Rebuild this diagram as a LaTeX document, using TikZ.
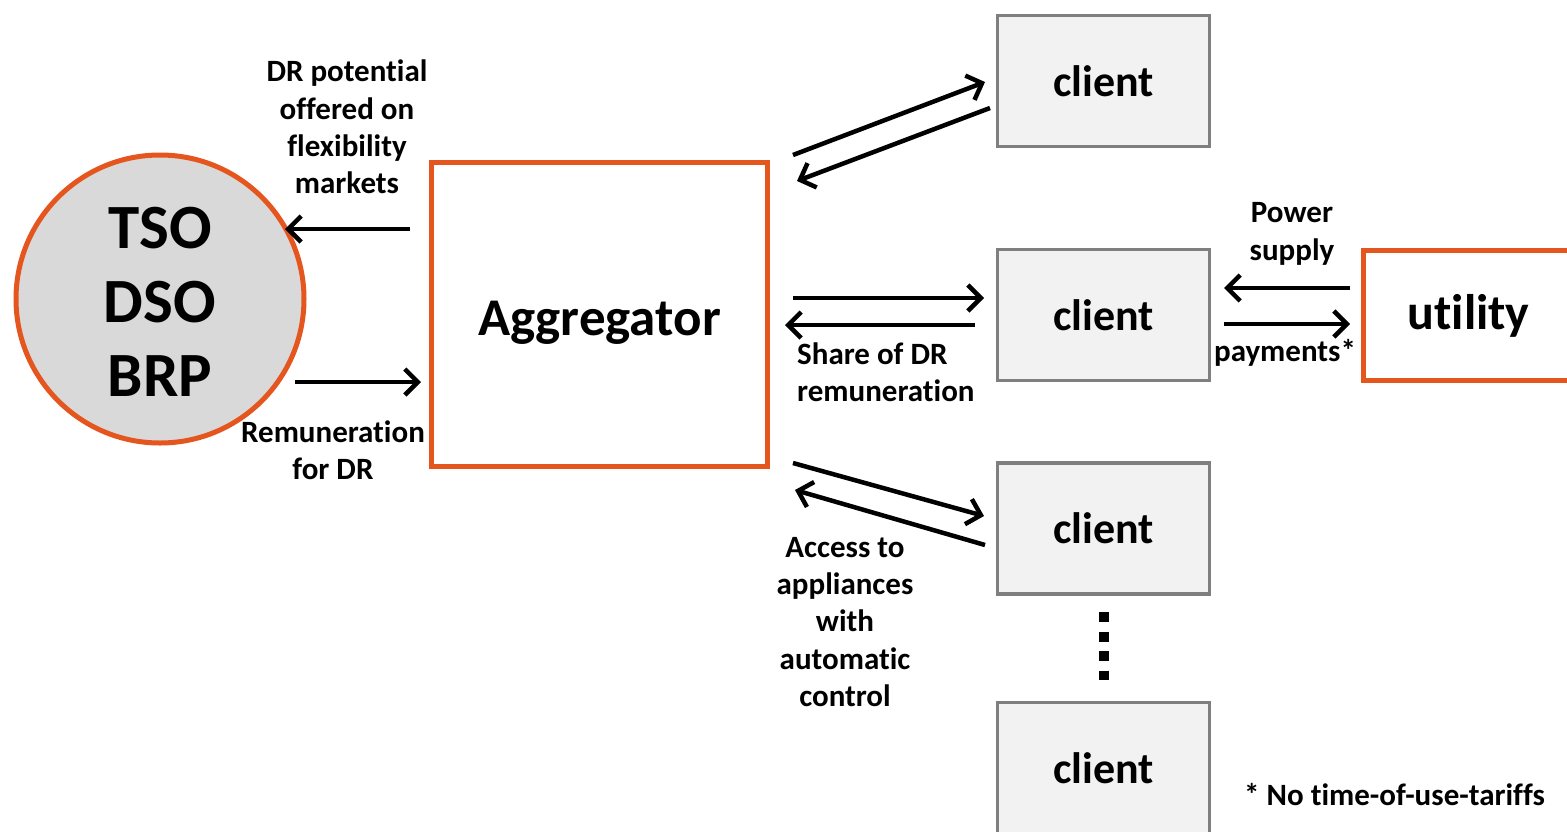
\documentclass[tikz,border=0pt]{standalone}
\usepackage{fontspec}
\setmainfont{Carlito}[Ligatures=NoCommon]
\usetikzlibrary{arrows.meta}
\definecolor{accent}{RGB}{228,86,30}
\definecolor{clientfill}{RGB}{242,242,242}
\definecolor{clientedge}{RGB}{127,127,127}
\definecolor{circlefill}{RGB}{217,217,217}
% split "t" and "i" so the font does not join them
\newcommand{\tx}{t\kern0pt }
\tikzset{
  orangebox/.style={draw=accent, line width=5pt, fill=white, rectangle, inner sep=0pt},
  clientbox/.style={draw=clientedge, line width=3.5pt, fill=clientfill, rectangle, inner sep=0pt,
    minimum width=212pt, minimum height=131pt, font=\fontsize{44}{50}\selectfont\bfseries},
  flow/.style={line width=4.5pt, -{Straight Barb[length=13pt,width=26pt,line width=4.5pt]}},
  lbl/.style={align=center, inner sep=0pt, font=\fontsize{31}{37.3}\selectfont\bfseries},
}
\begin{document}
\begin{tikzpicture}[x=1pt,y=-1pt]
\useasboundingbox (0,0) rectangle (1567,831);
\clip (0,0) rectangle (1567,831);

% parties
\node[circle, draw=accent, line width=5pt, fill=circlefill, minimum size=288pt, inner sep=0pt] (grid) at (160,299) {};
\node[align=center, inner sep=0pt, font=\fontsize{63}{74}\selectfont\bfseries] (gridt) at (160,302) {TSO\\DSO\\BRP};
\node[orangebox, minimum width=336pt, minimum height=304pt] (agg) at (599.5,314.5) {};
\node[inner sep=0pt, font=\fontsize{53}{60}\selectfont\bfseries] (aggt) at (599.5,322.5) {Aggregator};
\node[clientbox] (c1) at (1103.5,81) {client};
\node[clientbox] (c2) at (1103.5,315) {client};
\node[clientbox] (c3) at (1103.5,528.5) {client};
\node[clientbox] (c4) at (1103.5,768) {client};
\node[orangebox, minimum width=212pt, minimum height=130pt,
      font=\fontsize{50}{56}\selectfont\bfseries] (util) at (1469.5,315.5) {\hspace*{-2pt}u\tx ility};

% more clients
\draw[line width=10pt, dash pattern=on 10pt off 9.5pt] (c3.south |- 0,612) coordinate (d1) -- (c3.south |- 0,680) coordinate (d2);

% arrow end points
\coordinate (g1a) at (410,229);   \coordinate (g1b) at (285,229);
\coordinate (g2a) at (295,382);   \coordinate (g2b) at (421,382);
\coordinate (k1a) at (793,155);   \coordinate (k1b) at (985,82);
\coordinate (k1c) at (990,108);   \coordinate (k1d) at (797,181);
\coordinate (k2a) at (793,298);   \coordinate (k2b) at (984,298);
\coordinate (k2c) at (975,325);   \coordinate (k2d) at (785,325);
\coordinate (k3a) at (793,463);   \coordinate (k3b) at (984,516);
\coordinate (k3c) at (985,545);   \coordinate (k3d) at (795,490);
\coordinate (u1a) at (1350,288);  \coordinate (u1b) at (1224,288);
\coordinate (u2a) at (1224,324);  \coordinate (u2b) at (1350,324);

\draw[flow] (g1a) -- (g1b);
\draw[flow] (g2a) -- (g2b);
\draw[flow] (k1a) -- (k1b);
\draw[flow] (k1c) -- (k1d);
\draw[flow] (k2a) -- (k2b);
\draw[flow] (k2c) -- (k2d);
\draw[flow] (k3a) -- (k3b);
\draw[flow] (k3c) -- (k3d);
\draw[flow] (u1a) -- (u1b);
\draw[flow] (u2a) -- (u2b);

% labels
\node[lbl] (l1) at (347,127) {DR poten\tx ial\\offered on\\flexibility\\markets};
\node[lbl] (l2) at (333,450) {Remunera\tx ion\\for DR};
\node[lbl, align=left, anchor=west] (l3) at (797,372) {Share of DR\\remunera\tx ion};
\node[lbl] (l4) at (845,622) {Access to\\appliances\\with\\automa\tx ic\\control};
\node[lbl] (l5) at (1292,234) {Power\\supply};
\node[lbl] (l6) at (1285,353) {payments*};
\node[lbl, anchor=west] (l7) at (1244,795) {* No \tx ime-of-use-tariffs};
\end{tikzpicture}
\end{document}
